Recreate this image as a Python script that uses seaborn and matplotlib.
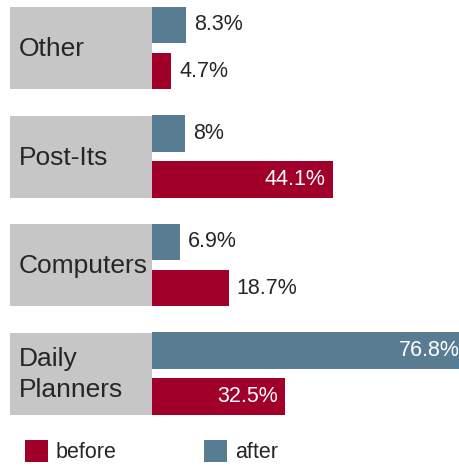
import matplotlib
matplotlib.use("Agg")
import matplotlib.pyplot as plt
from matplotlib.patches import Rectangle, Patch
from matplotlib.transforms import blended_transform_factory
import pandas as pd
import seaborn as sns

# Share of respondents per organising tool, before and after
categories = ["Other", "Post-Its", "Computers", "Daily Planners"]
category_labels = ["Other", "Post-Its", "Computers", "Daily\nPlanners"]
after = [8.3, 8, 6.9, 76.8]
before = [4.7, 44.1, 18.7, 32.5]
periods = ["after", "before"]
legend_order = ["before", "after"]

colors = {"after": "#587D93", "before": "#A1002B"}
box_gray = "#C6C6C6"
text_dark = "#262626"

df = pd.DataFrame({
    "category": categories * 2,
    "period": ["after"] * len(categories) + ["before"] * len(categories),
    "share": after + before,
})

sns.set_style("white")
plt.rcParams["font.family"] = ["Liberation Sans", "DejaVu Sans"]

W, H = 459, 466
fig = plt.figure(figsize=(W / 100, H / 100), dpi=100)
x0 = 152
ax = fig.add_axes([x0 / W, 0, (W - x0) / W, 1])

sns.barplot(data=df, y="category", x="share", hue="period",
            order=categories, hue_order=periods, palette=colors,
            orient="h", width=0.848, gap=0.217, saturation=1,
            linewidth=0, legend=False, ax=ax)

pitch = 108.5
top_c = 48
ax.set_ylim((H - top_c) / pitch, -top_c / pitch)
px_per_unit = 4.1
ax.set_xlim(0, (W - x0) / px_per_unit)
ax.set_axis_off()

# grey label boxes to the left of each pair of bars
blend = blended_transform_factory(ax.transAxes, ax.transData)
box_left = (10 - x0) / (W - x0)
box_w = (x0 - 10) / (W - x0)
half = 41 / pitch
for i, lab in enumerate(category_labels):
    ax.add_patch(Rectangle((box_left, i - half), box_w, 2 * half,
                           transform=blend, facecolor=box_gray,
                           edgecolor="none", clip_on=False, zorder=0))
    ax.text((19 - x0) / (W - x0), i + 0.01, lab, transform=blend, ha="left",
            va="center", fontsize=19, color=text_dark, linespacing=1.4)

# value labels: inside (white) for long bars, outside (dark) for short ones
values = {"after": after, "before": before}
for period, container in zip(periods, ax.containers):
    for bar, v in zip(container.patches, values[period]):
        yc = bar.get_y() + bar.get_height() / 2
        label = f"{v:g}%"
        if v > 25:
            ax.annotate(label, (v, yc), xytext=(-7, 0),
                        textcoords="offset pixels", ha="right", va="center",
                        color="white", fontsize=15.5, annotation_clip=False)
        else:
            ax.annotate(label, (v, yc), xytext=(8, 0),
                        textcoords="offset pixels", ha="left", va="center",
                        color=text_dark, fontsize=15.5, annotation_clip=False)

handles = [Patch(facecolor=colors[p], edgecolor="none", label=p)
           for p in legend_order]
fig.legend(handles=handles, loc="lower left",
           bbox_to_anchor=(25 / W, 3 / H), ncol=2, frameon=False,
           fontsize=15.5, handlelength=1.05, handleheight=1.23,
           handletextpad=0.36, columnspacing=4.1, borderpad=0,
           borderaxespad=0, labelcolor=text_dark)

fig.savefig("out.png", dpi=100)
